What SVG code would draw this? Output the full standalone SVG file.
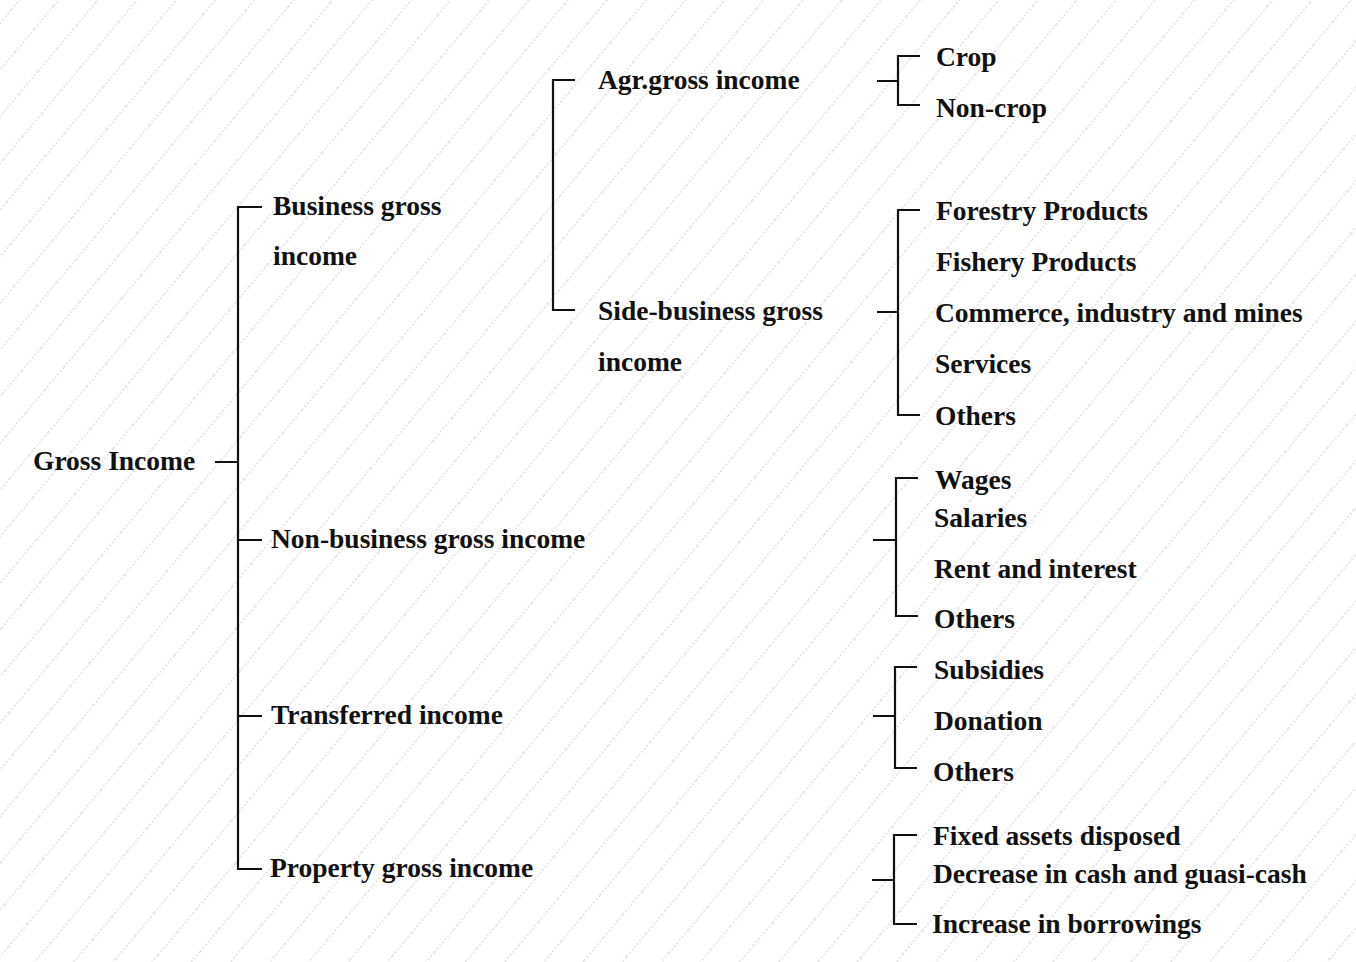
<svg xmlns="http://www.w3.org/2000/svg" width="1356" height="962" viewBox="0 0 1356 962">
<defs>
<pattern id="hatch" width="30" height="30" patternUnits="userSpaceOnUse" patternTransform="rotate(-50)">
<line x1="0" y1="15" x2="30" y2="15" stroke="#c8c8c8" stroke-width="2" stroke-dasharray="1.5 2.5"/>
</pattern>
</defs>
<style>
.t{font-family:"Liberation Serif","Times New Roman",serif;font-size:27.5px;font-weight:bold;fill:#111}
.c{stroke:#111;stroke-width:2.2;fill:none}
</style>
<rect width="1356" height="962" fill="#fff"/>
<rect width="1356" height="962" fill="url(#hatch)" opacity="0.6"/>
<g id="connectors">
<path class="c" d="M215,462H238M262,207H238V869H262M238,540H262M238,716H262"/>
<path class="c" d="M575,80H553V310H575"/>
<path class="c" d="M877,81H898M920,56H898V105H920"/>
<path class="c" d="M877,312H898M920,210H898V415H920"/>
<path class="c" d="M873,540H896M918,478H896V616H918"/>
<path class="c" d="M873,716H895M917,667H895V768H917"/>
<path class="c" d="M872,880H894M917,835H894V924H917"/>
</g>
<g id="n-gross"><text class="t" x="33" y="470">Gross Income</text></g>
<g id="n-business"><text class="t" x="273" y="215">Business gross</text><text class="t" x="273" y="265">income</text></g>
<g id="n-nonbusiness"><text class="t" x="271" y="548">Non-business gross income</text></g>
<g id="n-transferred"><text class="t" x="271" y="724">Transferred income</text></g>
<g id="n-property"><text class="t" x="270" y="877">Property gross income</text></g>
<g id="n-agr"><text class="t" x="598" y="89">Agr.gross income</text></g>
<g id="n-side"><text class="t" x="598" y="320">Side-business gross</text><text class="t" x="598" y="371">income</text></g>
<g id="n-crop"><text class="t" x="936" y="66">Crop</text></g>
<g id="n-noncrop"><text class="t" x="936" y="117">Non-crop</text></g>
<g id="n-forestry"><text class="t" x="936" y="220">Forestry Products</text></g>
<g id="n-fishery"><text class="t" x="936" y="271">Fishery Products</text></g>
<g id="n-commerce"><text class="t" x="935" y="322">Commerce, industry and mines</text></g>
<g id="n-services"><text class="t" x="935" y="373">Services</text></g>
<g id="n-others1"><text class="t" x="935" y="425">Others</text></g>
<g id="n-wages"><text class="t" x="935" y="489">Wages</text></g>
<g id="n-salaries"><text class="t" x="934" y="527">Salaries</text></g>
<g id="n-rent"><text class="t" x="934" y="578">Rent and interest</text></g>
<g id="n-others2"><text class="t" x="934" y="628">Others</text></g>
<g id="n-subsidies"><text class="t" x="934" y="679">Subsidies</text></g>
<g id="n-donation"><text class="t" x="934" y="730">Donation</text></g>
<g id="n-others3"><text class="t" x="933" y="781">Others</text></g>
<g id="n-fixed"><text class="t" x="933" y="845">Fixed assets disposed</text></g>
<g id="n-decrease"><text class="t" x="933" y="883">Decrease in cash and guasi-cash</text></g>
<g id="n-increase"><text class="t" x="932" y="933">Increase in borrowings</text></g>
</svg>
